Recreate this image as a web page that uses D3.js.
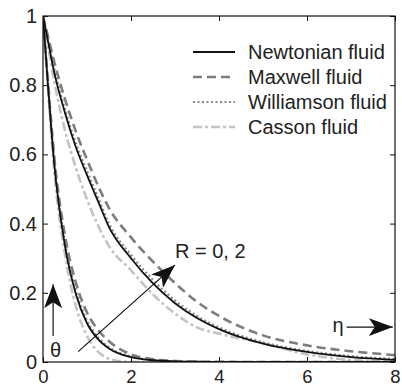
<!DOCTYPE html>
<html>
<head>
<meta charset="utf-8">
<script src="https://cdn.jsdelivr.net/npm/d3@7"></script>
<style>
  body { margin: 0; background: #fff; }
  text { font-family: "Liberation Sans", Arial, sans-serif; fill: #222; }
</style>
</head>
<body>
<div id="chart"></div>
<script>
// eta grid shared by every curve
const eta = [0, 0.125, 0.25, 0.5, 0.75, 1, 1.25, 1.5, 2, 2.5, 3, 3.5, 4, 5, 6, 7, 8];

// R = 0 (inner group)
const newtonR0     = [1, 0.78, 0.58, 0.335, 0.195, 0.112, 0.066, 0.039, 0.014, 0.005, 0.002, 0.001, 0, 0, 0, 0, 0];
const maxwellR0    = [1, 0.79, 0.60, 0.365, 0.228, 0.143, 0.093, 0.06, 0.022, 0.008, 0.003, 0.001, 0.0005, 0, 0, 0, 0];
const williamsonR0 = [1, 0.785, 0.59, 0.345, 0.205, 0.12, 0.072, 0.043, 0.016, 0.006, 0.002, 0.001, 0, 0, 0, 0, 0];
const cassonR0     = [1, 0.77, 0.56, 0.31, 0.16, 0.075, 0.03, 0.009, 0, 0, 0, 0, 0, 0, 0, 0, 0];

// R = 2 (outer group)
const newtonR2     = [1, 0.92, 0.84, 0.72, 0.62, 0.54, 0.465, 0.39, 0.30, 0.227, 0.17, 0.127, 0.095, 0.053, 0.029, 0.014, 0.006];
const maxwellR2    = [1, 0.935, 0.87, 0.76, 0.665, 0.585, 0.51, 0.445, 0.36, 0.29, 0.228, 0.174, 0.133, 0.077, 0.048, 0.031, 0.02];
const williamsonR2 = [1, 0.925, 0.85, 0.73, 0.632, 0.552, 0.476, 0.40, 0.31, 0.237, 0.178, 0.133, 0.10, 0.057, 0.032, 0.017, 0.009];
const cassonR2     = [1, 0.905, 0.815, 0.67, 0.56, 0.47, 0.395, 0.335, 0.265, 0.195, 0.14, 0.1, 0.082, 0.054, 0.022, 0.006, 0.001];

const fluids = ["Newtonian fluid", "Maxwell fluid", "Williamson fluid", "Casson fluid"];
const xTicks = [0, 2, 4, 6, 8];
const yTicks = [0, 0.2, 0.4, 0.6, 0.8, 1];

const styles = {
  "Newtonian fluid":  { stroke: "#111", width: 1.8, dash: null },
  "Maxwell fluid":    { stroke: "#7d7d7d", width: 2.6, dash: "9,5" },
  "Williamson fluid": { stroke: "#8a8a8a", width: 2.2, dash: "2,2.5" },
  "Casson fluid":     { stroke: "#c4c4c4", width: 2.6, dash: "9,3,3,3" }
};

const series = [
  { name: "Casson fluid", values: cassonR0 },
  { name: "Casson fluid", values: cassonR2 },
  { name: "Maxwell fluid", values: maxwellR0 },
  { name: "Maxwell fluid", values: maxwellR2 },
  { name: "Williamson fluid", values: williamsonR0 },
  { name: "Williamson fluid", values: williamsonR2 },
  { name: "Newtonian fluid", values: newtonR0 },
  { name: "Newtonian fluid", values: newtonR2 }
];

const W = 402, H = 388;
const margin = { top: 16, right: 7, bottom: 26, left: 43 },
  width = W - margin.left - margin.right,
  height = H - margin.top - margin.bottom;

const svg = d3.select("#chart").append("svg")
  .attr("width", W).attr("height", H);

const g = svg.append("g")
  .attr("transform", `translate(${margin.left}, ${margin.top})`);

const x = d3.scaleLinear().domain([0, 8]).range([0, width]);
const y = d3.scaleLinear().domain([0, 1]).range([height, 0]);

g.append("clipPath").attr("id", "clip")
  .append("rect").attr("width", width).attr("height", height);

const line = d3.line()
  .x((d, i) => x(eta[i]))
  .y(d => y(d))
  .curve(d3.curveMonotoneX);

g.append("g").attr("clip-path", "url(#clip)")
  .selectAll("path")
  .data(series)
  .join("path")
  .attr("fill", "none")
  .attr("stroke", d => styles[d.name].stroke)
  .attr("stroke-width", d => styles[d.name].width)
  .attr("stroke-dasharray", d => styles[d.name].dash)
  .attr("d", d => line(d.values));

// axes, matlab style: ticks inside on all sides
const tickLen = 5;
const axisStyle = (sel, size) => {
  sel.select(".domain").remove();
  sel.selectAll("line").attr("stroke", "#111");
  sel.selectAll("text").style("font-size", size || "20px").attr("fill", "#222");
};

g.append("g").attr("transform", `translate(0, ${height})`)
  .call(d3.axisBottom(x).tickValues(xTicks).tickSize(-tickLen).tickPadding(8).tickFormat(d3.format("d")))
  .call(axisStyle, "18.5px");
g.append("g")
  .call(d3.axisLeft(y).tickValues(yTicks).tickSize(-tickLen).tickPadding(6).tickFormat(d => d === 0 || d === 1 ? d : d3.format(".1f")(d)))
  .call(axisStyle);
g.append("g")
  .call(d3.axisTop(x).tickValues(xTicks).tickSize(-tickLen).tickFormat(""))
  .call(axisStyle);
g.append("g").attr("transform", `translate(${width}, 0)`)
  .call(d3.axisRight(y).tickValues(yTicks).tickSize(-tickLen).tickFormat(""))
  .call(axisStyle);

g.append("rect")
  .attr("width", width).attr("height", height)
  .attr("fill", "none").attr("stroke", "#111").attr("stroke-width", 1.2);

// legend
const legend = svg.append("g").attr("transform", "translate(193, 52)");
fluids.forEach((f, i) => {
  const row = legend.append("g").attr("transform", `translate(0, ${i * 25})`);
  row.append("line")
    .attr("x1", 0).attr("x2", 42).attr("y1", 0).attr("y2", 0)
    .attr("stroke", styles[f].stroke)
    .attr("stroke-width", styles[f].width)
    .attr("stroke-dasharray", styles[f].dash);
  row.append("text").attr("x", 55).attr("y", 7)
    .style("font-size", "20px").text(f);
});

// annotations
const defs = svg.append("defs");
defs.append("marker").attr("id", "head")
  .attr("viewBox", "0 0 24 18").attr("refX", 24).attr("refY", 9)
  .attr("markerWidth", 24).attr("markerHeight", 18)
  .attr("markerUnits", "userSpaceOnUse").attr("orient", "auto")
  .append("path").attr("d", "M0,0 L24,9 L0,18 L6,9 Z").attr("fill", "#111");

const arrow = (x1, y1, x2, y2) => g.append("line")
  .attr("x1", x(x1)).attr("y1", y(y1)).attr("x2", x(x2)).attr("y2", y(y2))
  .attr("stroke", "#111").attr("stroke-width", 1.2)
  .attr("marker-end", "url(#head)");

arrow(0.8, 0.03, 3.0, 0.28);
arrow(0.23, 0.075, 0.23, 0.225);
arrow(6.9, 0.101, 7.95, 0.101);

g.append("text").attr("x", x(3.0)).attr("y", y(0.3))
  .style("font-size", "20px").text("R = 0, 2");
g.append("text").attr("x", x(0.16)).attr("y", y(0.014))
  .style("font-size", "20px").text("θ");
g.append("text").attr("x", x(6.58)).attr("y", y(0.086))
  .style("font-size", "20px").text("η");
</script>
</body>
</html>
